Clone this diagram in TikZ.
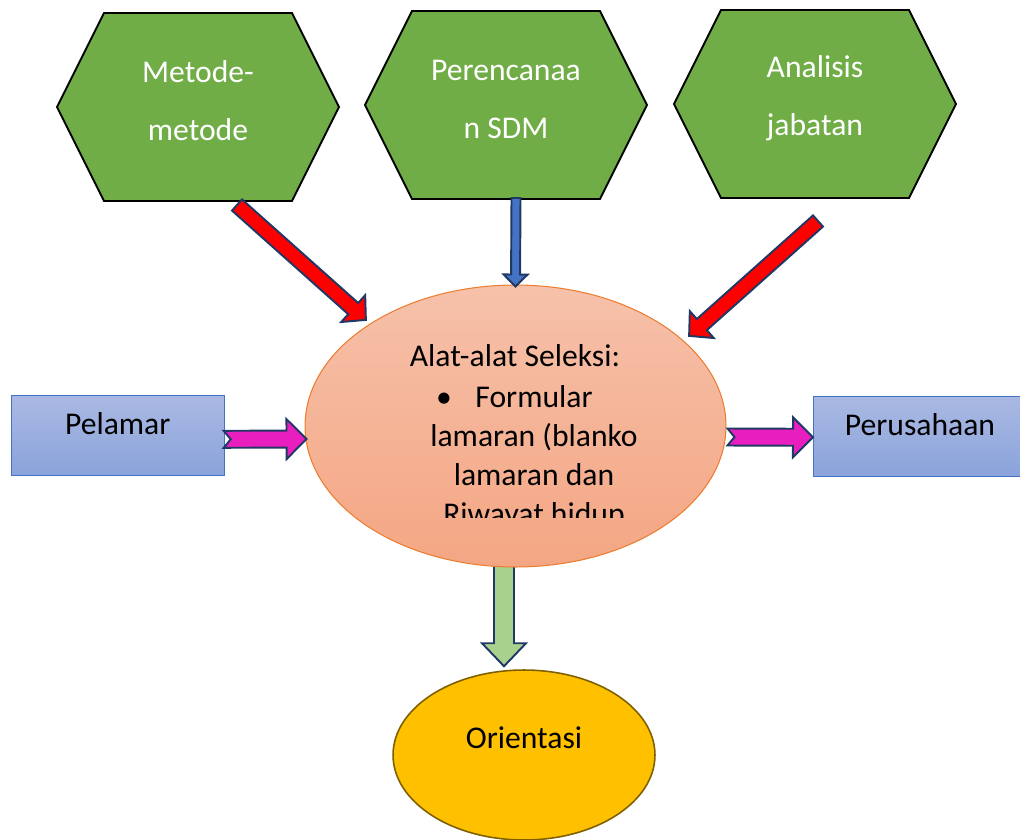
\documentclass[tikz,border=0pt]{standalone}
\usepackage{fontspec}
\setmainfont{Carlito}
\usetikzlibrary{calc,
  positioning,
  shapes
}
\definecolor{hijau}{HTML}{70AD47}
\definecolor{navy}{HTML}{203864}
\definecolor{jingga}{HTML}{ED7D31}
\definecolor{jinggaatas}{RGB}{246,193,170}
\definecolor{jinggabawah}{RGB}{244,166,131}
\definecolor{biruatas}{RGB}{170,185,227}
\definecolor{birubawah}{RGB}{138,163,219}
\definecolor{birutepi}{HTML}{4472C4}
\definecolor{merahmuda}{RGB}{233,30,190}
\definecolor{hijaumuda}{HTML}{A9D18E}
\definecolor{emas}{HTML}{FFC000}
\definecolor{emastepi}{HTML}{7F6000}
\newcommand*{\panahblok}[7]{%
  \filldraw[fill=#1,draw=navy,line width=1.1pt,line join=miter]
  let \p1=#2, \p2=#3, \n1={atan2(\y2-\y1,\x2-\x1)}, \n2={veclen(\x2-\x1,\y2-\y1)} in
  [shift={(\p1)},rotate=\n1]
  (0pt,{#4*\pxpt pt/2}) -- ({\n2-#6*\pxpt pt},{#4*\pxpt pt/2})
  -- ({\n2-#6*\pxpt pt},{#5*\pxpt pt/2}) -- (\n2,0pt)
  -- ({\n2-#6*\pxpt pt},{-#5*\pxpt pt/2}) -- ({\n2-#6*\pxpt pt},{-#4*\pxpt pt/2})
  -- (0pt,{-#4*\pxpt pt/2}) -- ({#7*\pxpt pt},0pt) -- cycle;
}
\newcommand*{\segienam}[3]{%
  \filldraw[fill=hijau,draw=black,line width=1.1pt,line join=miter]
  #2 ++(-141,0) -- ++(47,-94) -- ++(188,0) -- ++(47,94) -- ++(-47,94) -- ++(-188,0) -- cycle;
  \node[teks hex] (#1) at ($#2+(0,-6)$) {#3};
}

\begin{document}
\begin{tikzpicture}[x=0.02cm,y=-0.02cm,
  teks/.style={font=\fontsize{18}{22.2}\selectfont,inner sep=0pt},
  teks hex/.style={teks,text=white,align=center,font=\fontsize{18}{33}\selectfont},
  kotak/.style={teks,draw=birutepi,line width=0.6pt,top color=biruatas,bottom color=birubawah,
    minimum width=4.26cm,minimum height=1.61cm}]
  \pgfmathsetmacro{\pxpt}{0.02cm}
  \useasboundingbox (0,0) rectangle (1020,839);
  \clip (0,0) rectangle (1020,839);

  \segienam{metode}{(198,107)}{Metode-\\metode}
  \segienam{perencanaan}{(506,105)}{Perencanaa\\n SDM}
  \segienam{analisis}{(815,104)}{Analisis\\jabatan}

  \node[kotak] (pelamar) at (117.7,435.3) {\raisebox{0.2pt}[0pt][0pt]{Pelamar}};
  \node[kotak] (perusahaan) at (920,436.3) {\raisebox{0.7pt}[0pt][0pt]{Perusahaan}};
  \node[teks,ellipse,draw=emastepi,line width=0.9pt,fill=emas,
    minimum width=5.24cm,minimum height=3.4cm] (orientasi) at (524,755)
    {\raisebox{3.8pt}[0pt][0pt]{Orientasi}};

  \panahblok{hijaumuda}{($(515.5,426)+(-11.5,131)$)}{($(orientasi.north)+(-20,-3)$)}{20}{44}{23}{0}

  \node[teks,ellipse,draw=jingga,line width=0.6pt,top color=jinggaatas,bottom color=jinggabawah,
    minimum width=8.42cm,minimum height=5.64cm] (seleksi) at (515.5,426) {};
  \node[teks,anchor=base] (judul) at (515,366.7) {Alat-alat Seleksi:};
  \node[teks,anchor=base] (peluru) at (444,407) {\textbullet};
  \begin{scope}
    \clip (300,280) rectangle (740,517);
    \node[teks,align=center,anchor=base] (butir) at (534,524)
    {Formular\\lamaran (blanko\\lamaran dan\\Riwayat hidup};
  \end{scope}

  \panahblok{red}{($(metode)+(39,104)$)}{($(seleksi)+(-149.5,-106)$)}{15}{36}{17}{0}
  \panahblok{birutepi}{($(perencanaan)+(10,99)$)}{($(seleksi.north)+(0,2)$)}{9}{24}{12}{0}
  \panahblok{red}{($(analisis)+(3,123)$)}{($(seleksi)+(173.5,-90)$)}{15}{36}{17}{0}
  \panahblok{merahmuda}{($(pelamar.east)+(-1,4)$)}{($(seleksi.west)+(2,13)$)}{17}{40}{20}{7}
  \panahblok{merahmuda}{($(seleksi.east)+(1,11)$)}{($(perusahaan.west)+(0,1)$)}{17}{40}{20}{7}
\end{tikzpicture}
\end{document}
